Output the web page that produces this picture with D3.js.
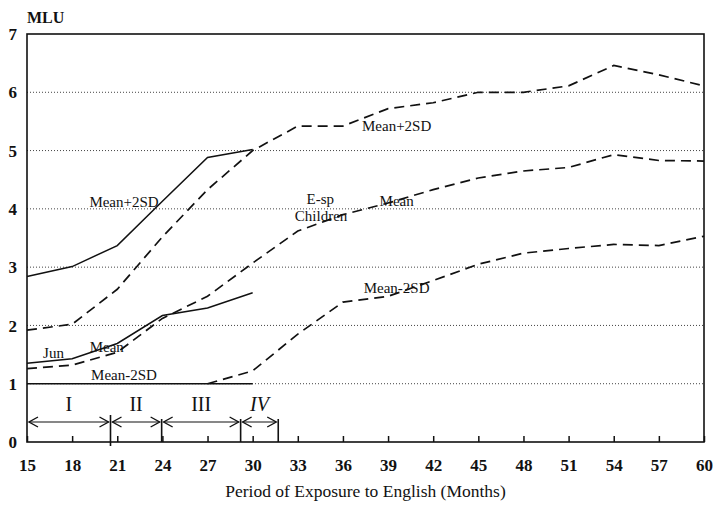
<!DOCTYPE html>
<html>
<head>
<meta charset="utf-8">
<script src="https://cdn.jsdelivr.net/npm/d3@7"></script>
<style>
  body { margin: 0; background: #fff; }
  svg { display: block; }
</style>
</head>
<body>
<div id="chart"></div>
<script>
// months on the x axis
const months = [15, 18, 21, 24, 27, 30, 33, 36, 39, 42, 45, 48, 51, 54, 57, 60]
const yTicks = [0, 1, 2, 3, 4, 5, 6, 7]

// Jun (solid lines)
const junMonths = [15, 18, 21, 24, 27, 30]
const junPlus2SD = [2.84, 3.01, 3.37, 4.13, 4.88, 5.02]
const junMean = [1.35, 1.43, 1.69, 2.17, 2.30, 2.56]
const junMinus2SD = [1, 1, 1, 1, 1, 1]

// E-sp children (dashed lines)
const espPlus2SD = [1.92, 2.02, 2.62, 3.52, 4.33, 5.0, 5.42, 5.42, 5.72, 5.82, 6.0, 6.0, 6.11, 6.46, 6.3, 6.11]
const espMean = [1.26, 1.32, 1.54, 2.12, 2.5, 3.07, 3.62, 3.9, 4.1, 4.33, 4.53, 4.65, 4.71, 4.93, 4.83, 4.82]
const espMinusMonths = [27, 30, 33, 36, 39, 42, 45, 48, 51, 54, 57, 60]
const espMinus2SD = [1.0, 1.22, 1.85, 2.4, 2.5, 2.77, 3.05, 3.24, 3.32, 3.39, 3.37, 3.53]

// phases along the bottom
const phaseBounds = [15, 20.55, 23.95, 29.2, 31.7]
const phaseLabels = ['I', 'II', 'III', 'IV']

const W = 717, H = 506
const m = { left: 27, right: 13, top: 34, bottom: 64 }

const svg = d3.select('#chart').append('svg')
    .attr('width', W)
    .attr('height', H)

const x = d3.scaleLinear().domain([15, 60]).range([m.left, W - m.right])
const y = d3.scaleLinear().domain([0, 7]).range([H - m.bottom, m.top])

const ink = '#111'
const serif = '"Liberation Serif", "Times New Roman", serif'

// dotted gridlines
svg.append('g')
    .selectAll('line')
    .data(yTicks.filter(d => d > 0 && d < 7))
    .enter()
    .append('line')
    .attr('x1', x(15))
    .attr('x2', x(60))
    .attr('y1', d => y(d))
    .attr('y2', d => y(d))
    .attr('stroke', '#444')
    .attr('stroke-width', 1)
    .attr('stroke-dasharray', '1,2')

// bottom axis, ticks pointing inward
const xAxis = svg.append('g')
    .attr('transform', `translate(0,${y(0)})`)
    .call(d3.axisBottom(x).tickValues(months).tickSizeInner(-6).tickSizeOuter(0).tickPadding(29))
xAxis.select('.domain').remove()
xAxis.selectAll('.tick line').attr('stroke', ink).attr('stroke-width', 1.5)
xAxis.selectAll('.tick text')
    .attr('fill', ink)
    .attr('font-family', serif)
    .attr('font-size', 17)
    .attr('font-weight', 'bold')
    .attr('dy', 0)

// left axis labels
const yAxis = svg.append('g')
    .attr('transform', `translate(${x(15)},0)`)
    .call(d3.axisLeft(y).tickValues(yTicks).tickFormat(d3.format('d')).tickSize(0).tickPadding(10))
yAxis.select('.domain').remove()
yAxis.selectAll('.tick text')
    .attr('fill', ink)
    .attr('font-family', serif)
    .attr('font-size', 17)
    .attr('font-weight', 'bold')
    .attr('dy', '0.33em')

// frame
svg.append('rect')
    .attr('x', x(15))
    .attr('y', y(7))
    .attr('width', x(60) - x(15))
    .attr('height', y(0) - y(7))
    .attr('fill', 'none')
    .attr('stroke', ink)
    .attr('stroke-width', 1.6)

const line = d3.line().x(d => x(d[0])).y(d => y(d[1]))

const series = [
    { xs: junMonths, ys: junPlus2SD, dash: null },
    { xs: junMonths, ys: junMean, dash: null },
    { xs: junMonths, ys: junMinus2SD, dash: null },
    { xs: months, ys: espPlus2SD, dash: '10,6' },
    { xs: months, ys: espMean, dash: '10,6' },
    { xs: espMinusMonths, ys: espMinus2SD, dash: '10,6' }
]

svg.append('g')
    .selectAll('path')
    .data(series)
    .enter()
    .append('path')
    .attr('d', s => line(s.xs.map((v, i) => [v, s.ys[i]])))
    .attr('fill', 'none')
    .attr('stroke', ink)
    .attr('stroke-width', s => s.dash ? 1.7 : 1.5)
    .attr('stroke-dasharray', s => s.dash)

// line labels
const labels = [
    { t: 'Mean+2SD', mx: 21.45, v: 4.03 },
    { t: 'Jun', mx: 16.76, v: 1.44 },
    { t: 'Mean', mx: 20.3, v: 1.54 },
    { t: 'Mean-2SD', mx: 21.45, v: 1.06 },
    { t: 'Mean+2SD', mx: 39.57, v: 5.34 },
    { t: 'E-sp', mx: 34.5, v: 4.08 },
    { t: 'Children', mx: 34.55, v: 3.79 },
    { t: 'Mean', mx: 39.57, v: 4.05 },
    { t: 'Mean-2SD', mx: 39.57, v: 2.56 }
]

svg.append('g')
    .selectAll('text')
    .data(labels)
    .enter()
    .append('text')
    .attr('x', d => x(d.mx))
    .attr('y', d => y(d.v))
    .attr('text-anchor', 'middle')
    .attr('font-family', serif)
    .attr('font-size', 15)
    .attr('fill', ink)
    .text(d => d.t)

// phase dividers and arrows
const arrowY = y(0) - 20
const ph = svg.append('g').attr('stroke', ink).attr('fill', 'none')

ph.selectAll('line.div')
    .data(phaseBounds.slice(1))
    .enter()
    .append('line')
    .attr('class', 'div')
    .attr('x1', d => x(d))
    .attr('x2', d => x(d))
    .attr('y1', (d, i) => i === 0 ? arrowY - 7 : arrowY - 3)
    .attr('y2', (d, i) => i === 0 ? y(0) + 4 : y(0))
    .attr('stroke-width', 1.6)

const phases = phaseLabels.map((t, i) => ({ t, a: phaseBounds[i], b: phaseBounds[i + 1] }))

ph.selectAll('line.arr')
    .data(phases)
    .enter()
    .append('line')
    .attr('class', 'arr')
    .attr('x1', d => x(d.a) + 2)
    .attr('x2', d => x(d.b) - 2)
    .attr('y1', arrowY)
    .attr('y2', arrowY)
    .attr('stroke-width', 1.2)

const head = (px, dir) => `M${px + dir * 9},${arrowY - 5}L${px},${arrowY}L${px + dir * 9},${arrowY + 5}`

ph.selectAll('path.head')
    .data(phases)
    .enter()
    .append('path')
    .attr('class', 'head')
    .attr('d', d => head(x(d.a) + 2, 1) + head(x(d.b) - 2, -1))
    .attr('stroke-width', 1.4)

svg.append('g')
    .selectAll('text')
    .data(phases)
    .enter()
    .append('text')
    .attr('x', d => (x(d.a) + x(d.b)) / 2)
    .attr('y', arrowY - 11)
    .attr('text-anchor', 'middle')
    .attr('font-family', serif)
    .attr('font-size', 20)
    .attr('font-style', d => d.t === 'IV' ? 'italic' : 'normal')
    .attr('fill', ink)
    .text(d => d.t)

// axis titles
svg.append('text')
    .attr('x', x(15))
    .attr('y', 23)
    .attr('font-family', serif)
    .attr('font-size', 16)
    .attr('font-weight', 'bold')
    .attr('fill', ink)
    .text('MLU')

svg.append('text')
    .attr('x', (x(15) + x(60)) / 2)
    .attr('y', 497)
    .attr('text-anchor', 'middle')
    .attr('font-family', serif)
    .attr('font-size', 17.5)
    .attr('fill', ink)
    .text('Period of Exposure to English (Months)')
</script>
</body>
</html>
